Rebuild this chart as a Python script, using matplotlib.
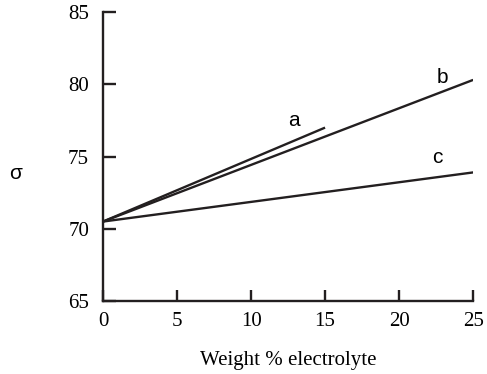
import numpy as np
import matplotlib.pyplot as plt

# weight % electrolyte vs surface tension, lines a, b, c
x_a = [0, 15]
y_a = [70.5, 77.0]
x_b = [0, 25]
y_b = [70.5, 80.3]
x_c = [0, 25]
y_c = [70.5, 73.9]

curve_labels = ['a', 'b', 'c']
label_pos = [(12.9, 77.5), (22.9, 80.5), (22.6, 74.9)]

xticks = [0, 5, 10, 15, 20, 25]
yticks = [65, 70, 75, 80, 85]

fig = plt.figure(figsize=(4.87, 3.74), dpi=100)
ax = fig.add_axes([0.2115, 0.195, 0.76, 0.773])

for xs, ys in [(x_a, y_a), (x_b, y_b), (x_c, y_c)]:
    ax.plot(xs, ys, '-', color='#231f20', linewidth=1.7, solid_capstyle='butt')

for lab, (lx, ly) in zip(curve_labels, label_pos):
    ax.text(lx, ly, lab, fontsize=15, family='Liberation Sans', ha='center', va='center')

ax.set_xlim(0, 25)
ax.set_ylim(65, 85)
ax.set_xticks(xticks)
ax.set_yticks(yticks)

for s in ['top', 'right']:
    ax.spines[s].set_visible(False)
for s in ['left', 'bottom']:
    ax.spines[s].set_linewidth(1.7)
    ax.spines[s].set_color('#231f20')

ax.tick_params(direction='in', width=1.7, color='#231f20', labelsize=15)
ax.tick_params(axis='y', length=9.5, pad=10)
ax.tick_params(axis='x', length=8, pad=8)
for lab in ax.get_xticklabels() + ax.get_yticklabels():
    lab.set_family('Liberation Serif')

ax.set_xlabel('Weight % electrolyte', fontsize=15, family='Liberation Serif', labelpad=14)
fig.text(16 / 487, 1 - 173 / 374, 'σ', fontsize=15, family='Liberation Sans',
         ha='center', va='center')

plt.savefig('out.png', dpi=100)
